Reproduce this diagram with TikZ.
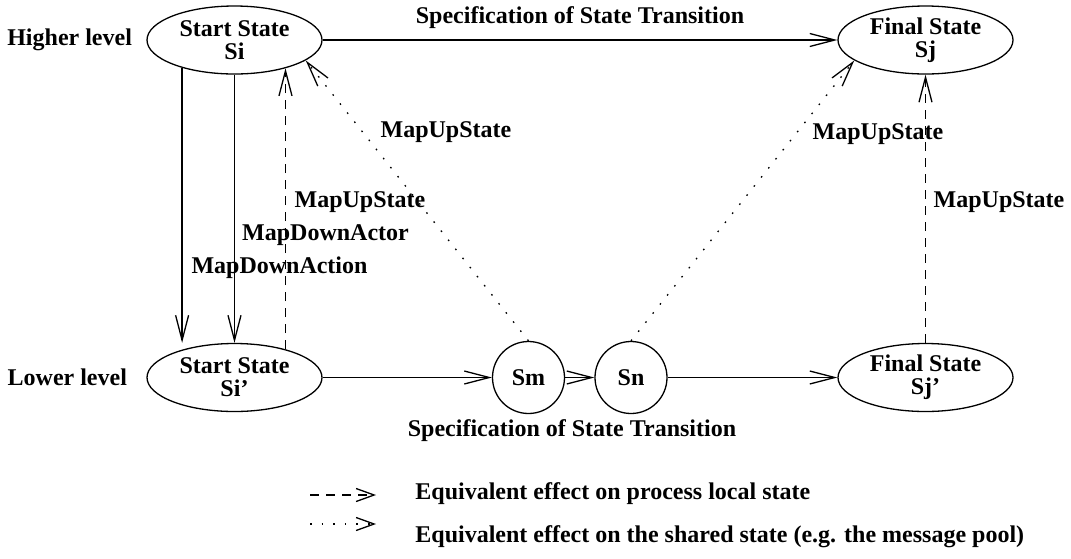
\documentclass[tikz,border=0pt]{standalone}
\usepackage{fontspec}
\setmainfont{Liberation Serif}
\usetikzlibrary{arrows.meta,positioning,shapes.geometric}

\begin{document}
\begin{tikzpicture}[x=0.5pt, y=-0.5pt,
  oval/.style={draw, ellipse, line width=0.65pt, inner sep=0pt,
               minimum width=87.5pt, minimum height=34pt, align=center,
               font=\fontsize{12}{11.5}\selectfont\bfseries},
  rund/.style={draw, circle, line width=0.65pt, inner sep=0pt,
               minimum size=36pt, font=\fontsize{12}{11.5}\selectfont\bfseries},
  lbl/.style={inner sep=0pt, font=\fontsize{12}{14}\selectfont\bfseries},
  trans/.style={-{Straight Barb[length=12.5pt, width=6.5pt]}, line width=0.65pt},
  local/.style={trans, dash pattern=on 4.5pt off 3.5pt},
  shared/.style={trans, dash pattern=on 0.8pt off 5pt},
  keytip/.style={-{Straight Barb[length=9pt, width=6.5pt]}}
]
\useasboundingbox (0,0) rectangle (1071,558);

% states
\node[oval] (Si)  at (234.5,40)    {Start State\\Si};
\node[oval] (Sj)  at (925.5,40)    {Final State\\Sj};
\node[oval] (Sil) at (234.5,377.5) {Start State\\Si'};
\node[oval] (Sjl) at (925.5,377.5) {Final State\\Sj'};
\node[rund] (Sm)  at (528.5,377.5) {Sm};
\node[rund] (Sn)  at (631,377.5)   {Sn};

\node[lbl, left=7pt of Si]    (hl) {Higher level};
\node[lbl, left=9.5pt of Sil] (ll) {Lower level};

% transitions
\draw[trans] (Si) -- node[lbl, above=5.5pt] (spec1) {Specification of State Transition} (Sj);
\draw[trans] (Sil) -- (Sm);
\draw[trans] (Sm) -- (Sn);
\draw[trans] (Sn) -- (Sjl);
\node[lbl] (spec2) at (572,431) {Specification of State Transition};

% mappings
\draw[trans] (Si.208) -- (Si.208 |- Sil.north);
\draw[trans] (Si.south) -- (Sil.north);
\draw[local] (Sil.29) -- (Si.-29);
\draw[local] (Sjl) -- (Sj);
\draw[shared] (Sm.north) -- (Si.-16);
\draw[shared] (Sn.north) -- (Sj.196);

\node[lbl] (up1)     at (446,132)   {MapUpState};
\node[lbl] (up2)     at (360,202)   {MapUpState};
\node[lbl] (dactor)  at (325.5,235) {MapDownActor};
\node[lbl] (daction) at (279.5,268) {MapDownAction};
\node[lbl] (up3)     at (878,134)   {MapUpState};
\node[lbl] (up4)     at (999,202)   {MapUpState};

% legend
\coordinate (k1a) at (310,495);
\coordinate (k1b) at (376,495);
\coordinate (k2a) at (310,524);
\coordinate (k2b) at (376,524);
\draw[local, keytip] (k1a) -- (k1b);
\draw[shared, keytip] (k2a) -- (k2b);
\node[lbl, anchor=west] (key1) at (415,494) {Equivalent effect on process local state};
\node[lbl, anchor=west] (key2) at (415,537) {Equivalent effect on the shared state (e.g. the message pool)};
\end{tikzpicture}
\end{document}
